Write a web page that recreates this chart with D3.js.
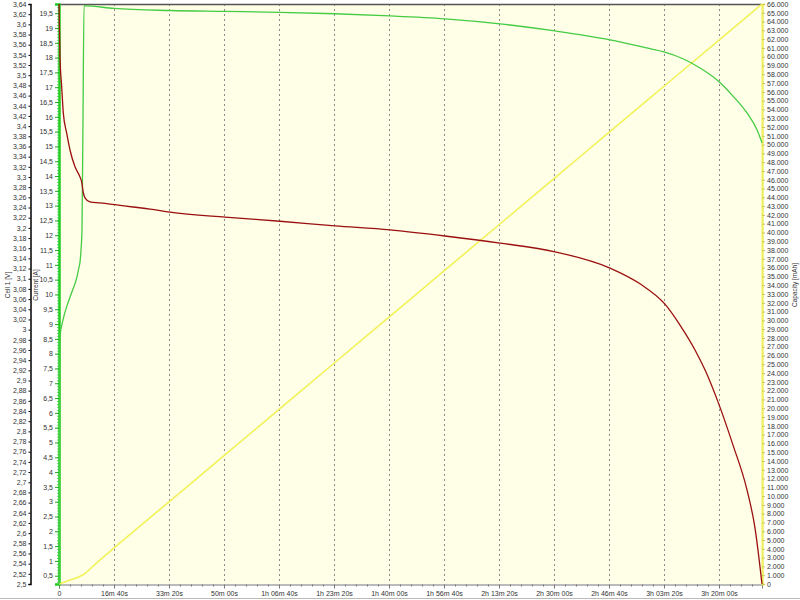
<!DOCTYPE html>
<html><head><meta charset="utf-8">
<script src="https://cdn.jsdelivr.net/npm/d3@7"></script>
<style>
body{margin:0;background:#fff;}
text{font-family:"Liberation Sans",Arial,sans-serif;font-size:7px;fill:#333;}
</style></head>
<body><svg id="c" width="800" height="600"></svg>
<script>
// time in seconds
const voltTime = [0,18,49,78,140,200,291,382,413,442,473,564,745,1049,1345,1655,2018,3018,4018,5018,6018,7018,8018,9018,10018,10564,11018,11291,11564,11745,11982,12255,12509,12655,12782];
const voltValues = [3.64,3.536,3.477,3.426,3.386,3.353,3.320,3.300,3.290,3.269,3.259,3.251,3.249,3.245,3.241,3.237,3.231,3.221,3.213,3.204,3.196,3.184,3.170,3.153,3.121,3.090,3.050,3.009,2.960,2.921,2.858,2.773,2.685,2.610,2.500];

const currTime = [0,18,73,164,236,327,364,382,400,418,436,455,473,1000,2018,3018,4018,5018,6018,7018,8018,9018,10018,10745,10982,11345,11655,11982,12255,12509,12691,12782];
const currValues = [0.22,8.56,9.14,9.72,10.09,10.59,10.93,11.09,11.50,12.18,15.9,19.75,19.75,19.66,19.59,19.56,19.53,19.48,19.41,19.31,19.14,18.90,18.60,18.30,18.20,17.96,17.65,17.22,16.70,16.13,15.56,15.12];

const capTime = [0,200,436,700,1000,2000,3000,4000,5000,6000,7000,8000,9000,10000,11000,12000,12782];
const capValues = [0,450,1050,2500,4100,9350,14600,19860,25120,30370,35620,40880,46130,51390,56640,61890,66000];

const timeTicks = [0,1000,2000,3000,4000,5000,6000,7000,8000,9000,10000,11000,12000];
const timeLabels = ["0","16m 40s","33m 20s","50m 00s","1h 06m 40s","1h 23m 20s","1h 40m 00s","1h 56m 40s","2h 13m 20s","2h 30m 00s","2h 46m 40s","3h 03m 20s","3h 20m 00s"];
const voltTicks = d3.range(250, 365, 2).map(v => v/100);
const currTicks = d3.range(1, 40).map(v => v/2);
const capTicks = d3.range(0, 67000, 1000);

const svg = d3.select("#c");
const L = 59, R = 762, T = 4, B = 584;
const x = d3.scaleLinear().domain([0, 12782]).range([L, R]);
const yV = d3.scaleLinear().domain([2.5, 3.64]).range([B, T]);
const yI = d3.scaleLinear().domain([0.22, 19.81]).range([B, T]);
const yC = d3.scaleLinear().domain([0, 66000]).range([B, T]);

const comma = v => String(+v.toFixed(2)).replace(".", ",");
const thou = v => v === 0 ? "0" : d3.format(",")(v).replace(/,/g, ".");

// background
svg.append("rect").attr("x", L).attr("y", T).attr("width", R-L).attr("height", B-T).attr("fill", "#fffee6");

// vertical grid
svg.append("g").selectAll("line").data(timeTicks.slice(1)).join("line")
  .attr("x1", d => x(d)+0.5).attr("x2", d => x(d)+0.5).attr("y1", T).attr("y2", B)
  .attr("stroke", "#8a8a8a").attr("stroke-width", 1).attr("stroke-dasharray", "2,3");

// top border
svg.append("line").attr("x1", L).attr("x2", R).attr("y1", T+0.5).attr("y2", T+0.5).attr("stroke", "#555").attr("stroke-width", 1.5);
// bottom frame line
svg.append("line").attr("x1", 0).attr("x2", 800).attr("y1", 598.5).attr("y2", 598.5).attr("stroke", "#bbb");

// X axis
const xAxis = d3.axisBottom(x).tickValues(timeTicks).tickFormat((d,i) => timeLabels[i]).tickSize(4).tickPadding(3);
const gx = svg.append("g").attr("transform", `translate(0,${B+0.5})`).call(xAxis);
gx.select(".domain").attr("stroke", "#777");
gx.selectAll(".tick line").attr("stroke", "#777");
gx.selectAll("text").style("font-size", "7px").attr("fill", "#333");
svg.append("g").attr("transform", `translate(0,${B+0.5})`)
  .call(d3.axisBottom(x).tickValues(d3.range(200, 12782, 200).filter(v => v % 1000)).tickSize(2).tickFormat(""))
  .call(g => { g.select(".domain").remove(); g.selectAll("line").attr("stroke", "#777"); });

// Voltage axis
const gv = svg.append("g").attr("transform", `translate(30.5,0)`)
  .call(d3.axisLeft(yV).tickValues(voltTicks).tickFormat(comma).tickSize(2).tickPadding(2));
gv.select(".domain").attr("stroke", "#000").attr("stroke-width", 1.5);
gv.selectAll(".tick line").attr("stroke", "#000");
gv.selectAll("text").style("font-size", "7px").attr("fill", "#333");

// Current axis
svg.append("g").attr("transform", `translate(${L},0)`)
  .call(d3.axisLeft(yI).tickValues(d3.range(3, 198).map(v => v/10)).tickSize(2).tickFormat(""))
  .call(g => { g.select(".domain").remove(); g.selectAll("line").attr("stroke", "#66dd66"); });
const gi = svg.append("g").attr("transform", `translate(${L},0)`)
  .call(d3.axisLeft(yI).tickValues(currTicks).tickFormat(comma).tickSize(4).tickPadding(2));
gi.select(".domain").attr("stroke", "#22cc22").attr("stroke-width", 2.5);
gi.selectAll(".tick line").attr("stroke", "#22aa22");
gi.selectAll("text").style("font-size", "7px").attr("fill", "#333");

// Capacity axis
svg.append("g").attr("transform", `translate(${R},0)`)
  .call(d3.axisRight(yC).tickValues(d3.range(200, 66000, 200).filter(v => v % 1000)).tickSize(2).tickFormat(""))
  .call(g => { g.select(".domain").remove(); g.selectAll("line").attr("stroke", "#e6e666"); });
const gc = svg.append("g").attr("transform", `translate(${R},0)`)
  .call(d3.axisRight(yC).tickValues(capTicks).tickFormat(thou).tickSize(3).tickPadding(2));
gc.select(".domain").attr("stroke", "#f0f060").attr("stroke-width", 2);
gc.selectAll(".tick line").attr("stroke", "#c8c850");
gc.selectAll("text").style("font-size", "7px").attr("fill", "#333");

// axis titles
const title = (tx, ty, s) => svg.append("text").attr("transform", `translate(${tx},${ty}) rotate(-90)`)
  .attr("text-anchor", "middle").style("font-size", "6.5px").attr("fill", "#222").text(s);
title(10, 285, "Cell 1 [V]");
title(38, 285, "Current [A]");
title(797, 285, "Capacity [mAh]");

// data lines
const plot = svg.append("g");
plot.append("path").datum(capTime.map((t,i) => [t, capValues[i]]))
  .attr("d", d3.line().x(d => x(d[0])).y(d => yC(d[1])).curve(d3.curveMonotoneX))
  .attr("fill", "none").attr("stroke", "#f2f25a").attr("stroke-width", 1.6);
plot.append("path").datum(currTime.map((t,i) => [t, currValues[i]]))
  .attr("d", d3.line().x(d => x(d[0])).y(d => yI(d[1])).curve(d3.curveMonotoneX))
  .attr("fill", "none").attr("stroke", "#44cc44").attr("stroke-width", 1.3);
plot.append("path").datum(voltTime.map((t,i) => [t, voltValues[i]]))
  .attr("d", d3.line().x(d => x(d[0])).y(d => yV(d[1])).curve(d3.curveMonotoneX))
  .attr("fill", "none").attr("stroke", "#9a1010").attr("stroke-width", 1.3);
</script></body></html>
